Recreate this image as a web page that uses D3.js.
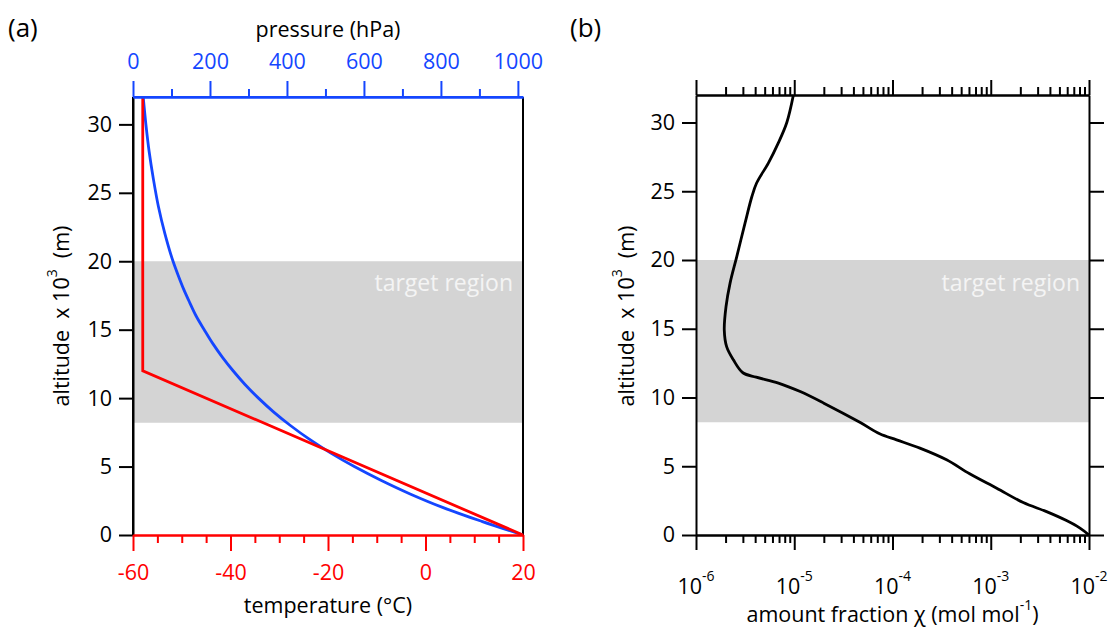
<!DOCTYPE html>
<html>
<head>
<meta charset="utf-8">
<script src="https://cdn.jsdelivr.net/npm/d3@7"></script>
<style>
  body { margin: 0; background: #fff; }
  svg { display: block; font-family: "Open Sans", "Noto Sans", sans-serif; }
</style>
</head>
<body>
<svg id="chart" width="1110" height="628"></svg>
<script>
// (a) temperature profile
const altitudeTemp = [0, 12, 32]
const temperature = [20, -58, -58]

// (a) pressure profile
const altitudePres = [0, 1, 2, 3, 4, 5, 6, 7, 8, 9, 10, 11, 12, 13, 14, 15, 16, 17, 18, 19, 20, 22, 24, 26, 28, 30, 32]
const pressure = [1013, 906, 806, 720, 644, 575, 513, 458, 409, 365, 326, 291, 260, 232, 207, 185, 164, 147, 131, 117, 104, 83, 66, 53, 42, 33.5, 26.5]

// (b) amount fraction profile
const altitudeChi = [0, 0.5, 1.05, 1.7, 2.36, 3.4, 4.45, 5.47, 6.32, 6.92, 7.36, 8.18, 9.59, 10.43, 11.05, 11.48, 11.8, 12.74, 13.7, 14.9, 16.6, 18.3, 20.25, 22.7, 24.6, 25.6, 27.05, 28.5, 30, 32]
const amountFraction = [1.0e-2, 8.1e-3, 5.9e-3, 3.7e-3, 2.14e-3, 1.15e-3, 6.1e-4, 3.55e-4, 1.9e-4, 1.1e-4, 7.4e-5, 4.7e-5, 2.0e-5, 1.15e-5, 6.9e-6, 4.1e-6, 3.0e-6, 2.4e-6, 2.05e-6, 1.94e-6, 2.02e-6, 2.22e-6, 2.6e-6, 3.16e-6, 3.7e-6, 4.14e-6, 5.45e-6, 6.87e-6, 8.4e-6, 9.8e-6]

// shaded band (altitude, km)
const targetRegion = [8.2, 20]

// tick values
const altitudeTicks = [0, 5, 10, 15, 20, 25, 30]
const tempMajor = [-60, -40, -20, 0, 20]
const tempMinor = [-55, -50, -45, -35, -30, -25, -15, -10, -5, 5, 10, 15]
const presMajor = [0, 200, 400, 600, 800, 1000]
const presMinor = [100, 300, 500, 700, 900]
const chiDecades = [-6, -5, -4, -3, -2]

const svg = d3.select('#chart')
const blue = '#1446ff'
const red = '#ff0000'
const fontSize = 21.5
const supSize = 14
const nb = '\u00a0'
const plain = d => String(d)   // keeps the hyphen minus, no thousands comma

// ---------- panel (a) ----------
const xT = d3.scaleLinear().domain([-60, 20]).range([133, 523])
const xP = d3.scaleLinear().domain([0, 1013.25]).range([133, 523])
const yA = d3.scaleLinear().domain([0, 32]).range([535, 97])

const gA = svg.append('g')

// grey band
gA.append('rect')
  .attr('x', xT(-60))
  .attr('width', xT(20) - xT(-60))
  .attr('y', yA(targetRegion[1]))
  .attr('height', yA(targetRegion[0]) - yA(targetRegion[1]))
  .attr('fill', '#d4d4d4')

gA.append('text')
  .attr('x', xT(20) - 10)
  .attr('y', 291)
  .attr('text-anchor', 'end')
  .attr('font-size', 23)
  .attr('fill', '#f4f4f4')
  .text('target region')

// frame: left + right
gA.append('line').attr('x1', 133).attr('x2', 133).attr('y1', 97).attr('y2', 535)
  .attr('stroke', '#000').attr('stroke-width', 2)
gA.append('line').attr('x1', 523).attr('x2', 523).attr('y1', 97).attr('y2', 535)
  .attr('stroke', '#000').attr('stroke-width', 2)

// curves
const lineT = d3.line()
  .x((d, i) => xT(temperature[i]))
  .y(d => yA(d))
const lineP = d3.line()
  .x((d, i) => xP(pressure[i]))
  .y(d => yA(d))
  .curve(d3.curveMonotoneY)

gA.append('path')
  .attr('d', lineP(altitudePres))
  .attr('fill', 'none')
  .attr('stroke', blue)
  .attr('stroke-width', 2.8)

gA.append('path')
  .attr('d', lineT(altitudeTemp))
  .attr('fill', 'none')
  .attr('stroke', red)
  .attr('stroke-width', 2.8)

function styleAxis(g, color) {
  g.attr('font-family', null)
  g.select('.domain').attr('stroke', color).attr('stroke-width', 2)
  g.selectAll('.tick line').attr('stroke', color).attr('stroke-width', 2)
  g.selectAll('.tick text').attr('fill', color).attr('font-size', fontSize)
}

// left axis
gA.append('g')
  .attr('transform', 'translate(133,0)')
  .call(d3.axisLeft(yA).tickValues(altitudeTicks).tickFormat(plain).tickSize(14).tickPadding(7).tickSizeOuter(0))
  .call(g => styleAxis(g, '#000'))

// bottom temperature axis
gA.append('g')
  .attr('transform', 'translate(0,535)')
  .call(d3.axisBottom(xT).tickValues(tempMinor).tickSize(8).tickFormat('').tickSizeOuter(0))
  .call(g => styleAxis(g, red))
gA.append('g')
  .attr('transform', 'translate(0,535)')
  .call(d3.axisBottom(xT).tickValues(tempMajor).tickFormat(plain).tickSize(16).tickPadding(14).tickSizeOuter(0))
  .call(g => styleAxis(g, red))

gA.append('text')
  .attr('x', (133 + 523) / 2)
  .attr('y', 613)
  .attr('text-anchor', 'middle')
  .attr('font-size', fontSize)
  .text('temperature (°C)')

// top pressure axis
gA.append('g')
  .attr('transform', 'translate(0,97)')
  .call(d3.axisTop(xP).tickValues(presMinor).tickSize(8).tickFormat('').tickSizeOuter(0))
  .call(g => styleAxis(g, blue))
gA.append('g')
  .attr('transform', 'translate(0,97)')
  .call(d3.axisTop(xP).tickValues(presMajor).tickFormat(plain).tickSize(16).tickPadding(12).tickSizeOuter(0))
  .call(g => styleAxis(g, blue))
// extend the blue line to the right frame
gA.append('line').attr('x1', 133).attr('x2', 523).attr('y1', 97).attr('y2', 97)
  .attr('stroke', blue).attr('stroke-width', 2)

gA.append('text')
  .attr('x', (133 + 523) / 2)
  .attr('y', 37)
  .attr('text-anchor', 'middle')
  .attr('font-size', fontSize)
  .text('pressure (hPa)')

// y title with superscript
function altitudeTitle(g, x) {
  const t = g.append('text')
    .attr('transform', `translate(${x},316) rotate(-90)`)
    .attr('text-anchor', 'middle')
    .attr('font-size', fontSize)
  t.append('tspan').text(`altitude${nb}${nb}x${nb}10`)
  t.append('tspan').attr('font-size', supSize).attr('dy', -12).text('3')
  t.append('tspan').attr('dy', 12).text(`${nb}${nb}(m)`)
}
altitudeTitle(gA, 69)

svg.append('text')
  .attr('x', 8)
  .attr('y', 37)
  .attr('font-size', 26)
  .text('(a)')

// ---------- panel (b) ----------
const xC = d3.scaleLog().domain([1e-6, 1e-2]).range([696, 1089])
const yB = d3.scaleLinear().domain([0, 32]).range([535, 95])

const gB = svg.append('g')

gB.append('rect')
  .attr('x', xC(1e-6))
  .attr('width', xC(1e-2) - xC(1e-6))
  .attr('y', yB(targetRegion[1]))
  .attr('height', yB(targetRegion[0]) - yB(targetRegion[1]))
  .attr('fill', '#d4d4d4')

gB.append('text')
  .attr('x', xC(1e-2) - 9)
  .attr('y', 291)
  .attr('text-anchor', 'end')
  .attr('font-size', 23)
  .attr('fill', '#f4f4f4')
  .text('target region')

const lineC = d3.line()
  .x((d, i) => xC(amountFraction[i]))
  .y(d => yB(d))
  .curve(d3.curveCatmullRom.alpha(0.5))

gB.append('path')
  .attr('d', lineC(altitudeChi))
  .attr('fill', 'none')
  .attr('stroke', '#000')
  .attr('stroke-width', 2.8)

// minor log ticks 2..9 per decade
const chiMinor = []
chiDecades.slice(0, -1).forEach(e => {
  for (let k = 2; k <= 9; k++) chiMinor.push(k * Math.pow(10, e))
})
const chiMajor = chiDecades.map(e => Math.pow(10, e))

gB.append('g')
  .attr('transform', 'translate(696,0)')
  .call(d3.axisLeft(yB).tickValues(altitudeTicks).tickFormat(plain).tickSize(14).tickPadding(7).tickSizeOuter(0))
  .call(g => styleAxis(g, '#000'))
gB.append('g')
  .attr('transform', 'translate(1089,0)')
  .call(d3.axisRight(yB).tickValues(altitudeTicks).tickSize(15).tickFormat('').tickSizeOuter(0))
  .call(g => styleAxis(g, '#000'))

const axisFns = [[d3.axisBottom, 535], [d3.axisTop, 95]]
axisFns.forEach(([fn, y]) => {
  gB.append('g')
    .attr('transform', `translate(0,${y})`)
    .call(fn(xC).tickValues(chiMinor).tickSize(8).tickFormat('').tickSizeOuter(0))
    .call(g => styleAxis(g, '#000'))
  gB.append('g')
    .attr('transform', `translate(0,${y})`)
    .call(fn(xC).tickValues(chiMajor).tickSize(15).tickFormat('').tickSizeOuter(0))
    .call(g => styleAxis(g, '#000'))
})

// log tick labels 10^n
chiDecades.forEach(e => {
  const t = gB.append('text')
    .attr('x', xC(Math.pow(10, e)))
    .attr('y', 594)
    .attr('text-anchor', 'middle')
    .attr('font-size', fontSize)
  t.append('tspan').text('10')
  t.append('tspan').attr('font-size', supSize).attr('dy', -13).text(e)
})

const tb = gB.append('text')
  .attr('x', (696 + 1089) / 2)
  .attr('y', 622)
  .attr('text-anchor', 'middle')
  .attr('font-size', fontSize)
tb.append('tspan').text('amount fraction χ (mol mol')
tb.append('tspan').attr('font-size', supSize).attr('dy', -12).text('-1')
tb.append('tspan').attr('dy', 12).text(')')

altitudeTitle(gB, 634)

svg.append('text')
  .attr('x', 570)
  .attr('y', 37)
  .attr('font-size', 26)
  .text('(b)')
</script>
</body>
</html>
